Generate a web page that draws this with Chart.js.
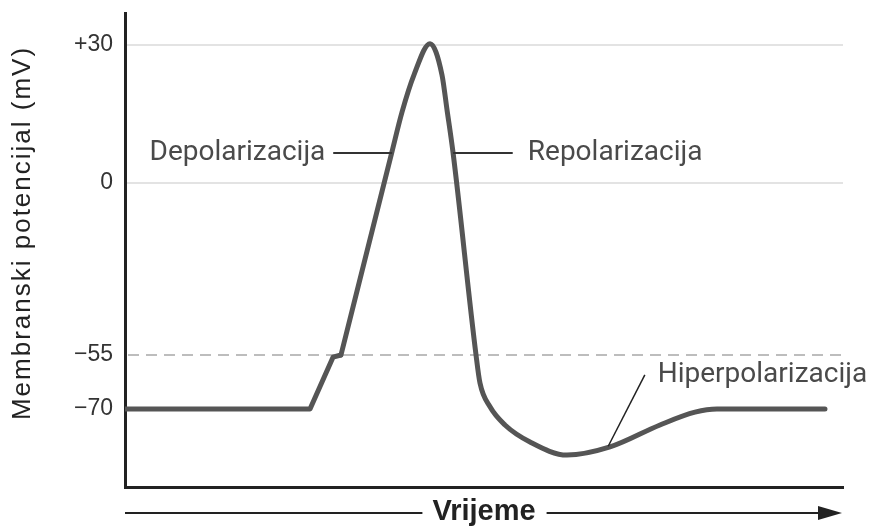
<!DOCTYPE html>
<html>
<head>
<meta charset="utf-8">
<script src="https://cdn.jsdelivr.net/npm/chart.js@4.4.0/dist/chart.umd.min.js"></script>
<style>
  html, body { margin: 0; padding: 0; background: #fff; }
</style>
</head>
<body>
<canvas id="apChart" width="872" height="529"></canvas>
<script>
// Action potential: time (arbitrary units), potential (mV)
const timeValues = [0, 25.77, 28.97, 30.08,
                    37.17, 38.58, 40.25, 42.48, 44.15, 44.85, 45.68, 48.89,
                    49.44, 50.84, 52.92, 56.41, 61.56, 67.55, 74.51, 79.39, 82.45, 97.49];
const potentialValues = [-70, -70, -55.6, -55,
                         6.7, 15.4, 23.5, 30.3, 23.5, 15.9, 6.7, -55,
                         -62.8, -69.4, -74.5, -79.3, -83.0, -80.7, -74.5, -70.9, -70, -70];
// the foot of the spike is drawn with sharp corners, the rest as a smooth curve
const smoothFrom = 3;

const tickValues = [-70, -55, 0, 30];
const tickLabels = ['−70', '−55', '0', '+30'];
const gridValues = [0, 30];
const thresholdValue = -55;

const phaseLabels = ['Depolarizacija', 'Repolarizacija', 'Hiperpolarizacija'];
const yTitle = 'Membranski potencijal (mV)';
const xTitle = 'Vrijeme';

// the diagram's y axis is not to scale, so it is stretched piece by piece
const yBreaks = [-92, -70, -55, 0, 30, 37];
const yStops = [0, 0.16456, 0.27848, 0.64135, 0.93249, 1];

function toDecimal(v) {
    let i = 1;
    while (i < yBreaks.length - 1 && v > yBreaks[i]) i++;
    const t = (v - yBreaks[i - 1]) / (yBreaks[i] - yBreaks[i - 1]);
    return yStops[i - 1] + t * (yStops[i] - yStops[i - 1]);
}

function fromDecimal(d) {
    let i = 1;
    while (i < yStops.length - 1 && d > yStops[i]) i++;
    const t = (d - yStops[i - 1]) / (yStops[i] - yStops[i - 1]);
    return yBreaks[i - 1] + t * (yBreaks[i] - yBreaks[i - 1]);
}

class BrokenScale extends Chart.LinearScale {
    getPixelForValue(value) {
        return this.getPixelForDecimal(toDecimal(value));
    }
    getValueForPixel(pixel) {
        return fromDecimal(this.getDecimalForPixel(pixel));
    }
}
BrokenScale.id = 'broken';
BrokenScale.defaults = {};
Chart.register(BrokenScale);

const points = timeValues.map((t, i) => ({ x: t, y: potentialValues[i] }));

const traceStyle = {
    borderColor: '#555',
    borderWidth: 5,
    borderCapStyle: 'round',
    borderJoinStyle: 'round',
    pointRadius: 0,
    fill: false
};

const labelFont = '28px Roboto';
const labelColor = '#4a4a4a';

const diagramParts = {
    id: 'diagramParts',
    beforeDatasetsDraw(chart) {
        const { ctx, scales: { x, y } } = chart;
        // threshold line
        const ty = y.getPixelForValue(thresholdValue);
        ctx.save();
        ctx.strokeStyle = '#bdbdbd';
        ctx.lineWidth = 2;
        ctx.setLineDash([11, 7]);
        ctx.beginPath();
        ctx.moveTo(x.left + 3, ty);
        ctx.lineTo(x.right - 1, ty);
        ctx.stroke();
        ctx.restore();
    },
    afterDatasetsDraw(chart) {
        const { ctx, scales: { x, y } } = chart;
        const px = v => x.getPixelForValue(v);
        const py = v => y.getPixelForValue(v);

        ctx.save();
        ctx.font = labelFont;
        ctx.fillStyle = labelColor;
        ctx.textBaseline = 'middle';

        ctx.textAlign = 'right';
        ctx.fillText(phaseLabels[0], px(27.9), py(6.5));
        ctx.textAlign = 'left';
        ctx.fillText(phaseLabels[1], px(56.1), py(6.5));
        ctx.fillText(phaseLabels[2], px(74.2), py(-60.6));

        ctx.strokeStyle = '#333';
        ctx.lineWidth = 2;
        ctx.beginPath();
        ctx.moveTo(px(29.0), py(6.5));
        ctx.lineTo(px(37.2), py(6.5));
        ctx.moveTo(px(45.7), py(6.5));
        ctx.lineTo(px(54.0), py(6.5));
        ctx.stroke();

        ctx.strokeStyle = '#222';
        ctx.lineWidth = 1.5;
        ctx.beginPath();
        ctx.moveTo(px(72.4), py(-60.5));
        ctx.lineTo(px(67.3), py(-80.5));
        ctx.stroke();
        ctx.restore();
    },
    afterDraw(chart) {
        const { ctx, scales: { x } } = chart;
        ctx.save();

        // y axis title
        ctx.font = '26px "Liberation Sans"';
        ctx.fillStyle = '#222';
        ctx.textAlign = 'center';
        ctx.textBaseline = 'middle';
        ctx.translate(23, 233);
        ctx.rotate(-Math.PI / 2);
        ctx.letterSpacing = '2px';
        ctx.fillText(yTitle, 0, 0);
        ctx.restore();

        // time arrow on both sides of the x title
        ctx.save();
        ctx.font = 'bold 29px "Liberation Sans"';
        const half = ctx.measureText(xTitle).width / 2;
        const cx = (x.left + x.right) / 2;
        const ay = 513;
        ctx.strokeStyle = '#222';
        ctx.fillStyle = '#222';
        ctx.lineWidth = 2;
        ctx.beginPath();
        ctx.moveTo(x.left, ay);
        ctx.lineTo(cx - half - 10, ay);
        ctx.moveTo(cx + half + 11, ay);
        ctx.lineTo(x.right - 20, ay);
        ctx.stroke();
        ctx.beginPath();
        ctx.moveTo(x.right - 1, ay);
        ctx.lineTo(x.right - 25, ay - 7);
        ctx.lineTo(x.right - 25, ay + 7);
        ctx.closePath();
        ctx.fill();
        ctx.restore();
    }
};

new Chart(document.getElementById('apChart'), {
    type: 'line',
    data: {
        datasets: [
            Object.assign({ data: points.slice(0, smoothFrom + 1), tension: 0 }, traceStyle),
            Object.assign({ data: points.slice(smoothFrom), cubicInterpolationMode: 'monotone' }, traceStyle)
        ]
    },
    options: {
        responsive: false,
        animation: false,
        layout: { padding: { top: 13, right: 29, left: 0, bottom: 0 } },
        plugins: {
            legend: { display: false },
            tooltip: { enabled: false }
        },
        scales: {
            x: {
                type: 'linear',
                min: 0,
                max: 100,
                ticks: { display: false },
                grid: { display: false },
                border: { color: '#222', width: 3 },
                title: {
                    display: true,
                    text: xTitle,
                    color: '#222',
                    font: { family: 'Liberation Sans', size: 29, weight: 'bold' },
                    padding: { top: 0, bottom: 0 }
                },
                afterFit: s => {
                    s.height = 42;
                    s.paddingLeft = 0;
                    s.paddingRight = 0;
                }
            },
            y: {
                type: 'broken',
                min: -92,
                max: 37,
                afterBuildTicks: s => { s.ticks = tickValues.map(v => ({ value: v })); },
                ticks: {
                    padding: 12,
                    color: '#333',
                    font: { family: 'Liberation Sans', size: 23 },
                    callback: v => tickLabels[tickValues.indexOf(v)]
                },
                grid: {
                    drawTicks: false,
                    lineWidth: 2,
                    color: c => gridValues.includes(c.tick && c.tick.value) ? '#e3e3e3' : 'rgba(0,0,0,0)'
                },
                border: { color: '#222', width: 3 },
                afterFit: s => {
                    s.width = 125;
                    s.paddingTop = 0;
                    s.paddingBottom = 0;
                }
            }
        }
    },
    plugins: [diagramParts]
});
</script>
</body>
</html>
